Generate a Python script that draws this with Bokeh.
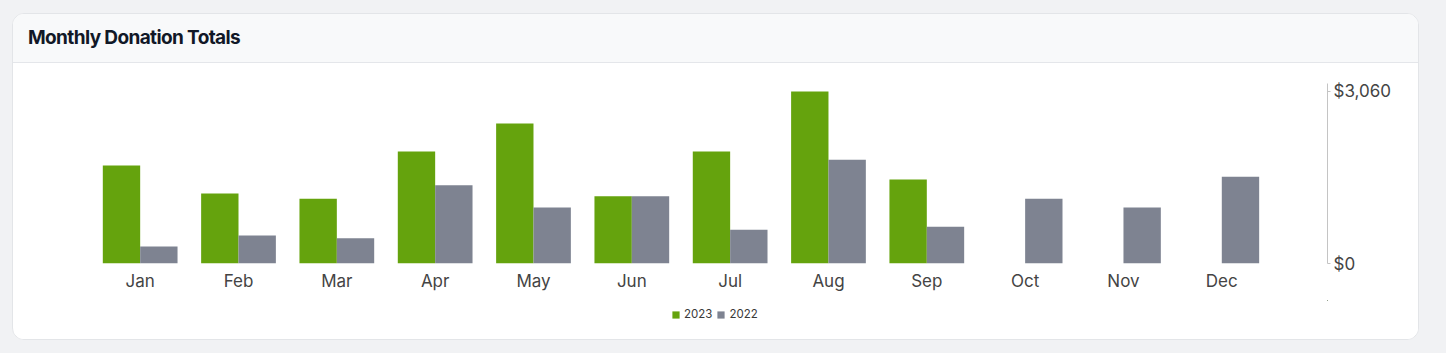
import math
from bokeh.plotting import figure
from bokeh.models import (ColumnDataSource, Range1d, LinearAxis, FixedTicker,
                          NumeralTickFormatter, Legend, Div)
from bokeh.layouts import column
from bokeh.transform import dodge
from bokeh.embed import file_html
from bokeh.resources import INLINE

months = ["Jan", "Feb", "Mar", "Apr", "May", "Jun",
          "Jul", "Aug", "Sep", "Oct", "Nov", "Dec"]
donations_2023 = [1743, 1245, 1151, 1993, 2491, 1197, 1993, 3060, 1494,
                  float("nan"), float("nan"), float("nan")]
donations_2022 = [302, 498, 450, 1393, 996, 1197, 599, 1845, 653, 1151, 996, 1542]
y_ticks = [0, 3060]
series_names = ["2023", "2022"]

GREEN = "#65a30d"
GREY = "#7e8391"
TEXT = "#444444"
FONT = "Inter"

src = ColumnDataSource(dict(
    x=list(range(len(months))),
    month=months,
    y2023=donations_2023,
    y2022=donations_2022,
))

p = figure(width=1405, height=237, output_backend="svg", toolbar_location=None,
           x_range=Range1d(-0.495, 12.075), y_range=Range1d(0, 3202.3),
           x_axis_location=None, y_axis_location=None,
           min_border_left=78, min_border_right=91,
           min_border_top=20, min_border_bottom=37, margin=0)
p.outline_line_color = None
p.background_fill_color = "white"
p.border_fill_color = "white"
p.xgrid.visible = False
p.ygrid.visible = False

p.vbar(x=dodge("x", -0.19, range=p.x_range), top="y2023", width=0.38,
       source=src, fill_color=GREEN, line_color=None)
p.vbar(x=dodge("x", 0.19, range=p.x_range), top="y2022", width=0.38,
       source=src, fill_color=GREY, line_color=None)

xaxis = LinearAxis(ticker=FixedTicker(ticks=list(range(len(months)))),
                   major_label_overrides={i: m for i, m in enumerate(months)})
xaxis.axis_line_color = None
xaxis.major_tick_line_color = None
xaxis.minor_tick_line_color = None
xaxis.major_tick_out = 0
xaxis.major_tick_in = 0
xaxis.major_label_standoff = 7
xaxis.major_label_text_font = FONT
xaxis.major_label_text_font_size = "17px"
xaxis.major_label_text_color = TEXT
p.add_layout(xaxis, "below")

yaxis = LinearAxis(ticker=FixedTicker(ticks=y_ticks),
                   formatter=NumeralTickFormatter(format="$0,0"))
yaxis.axis_line_color = "#c4c4c4"
yaxis.major_tick_line_color = "#c4c4c4"
yaxis.minor_tick_line_color = None
yaxis.major_tick_in = 0
yaxis.major_tick_out = 3
yaxis.major_label_standoff = 3
yaxis.major_label_text_font = FONT
yaxis.major_label_text_font_size = "17px"
yaxis.major_label_text_color = TEXT
yaxis.major_label_text_align = "left"
p.add_layout(yaxis, "right")

# legend strip below the chart (its own renderers fall outside its view)
lg = figure(width=1405, height=39, output_backend="svg", toolbar_location=None,
            x_range=Range1d(-100, -99), y_range=Range1d(-100, -99),
            x_axis_location=None, y_axis_location=None,
            min_border=0, margin=0)
lg.outline_line_color = None
lg.background_fill_color = "white"
lg.border_fill_color = "white"
lg.xgrid.visible = False
lg.ygrid.visible = False
l1 = lg.vbar(x="x", top="y2023", width=0.38, source=src, fill_color=GREEN, line_color=None)
l2 = lg.vbar(x="x", top="y2022", width=0.38, source=src, fill_color=GREY, line_color=None)

legend = Legend(items=[(series_names[0], [l1]), (series_names[1], [l2])],
                orientation="horizontal", location=(580, 18),
                glyph_width=9, glyph_height=9, label_height=12,
                label_standoff=4, spacing=4, padding=0, margin=0,
                label_text_font=FONT, label_text_font_size="11.5px",
                label_text_color="#3a3a3a",
                background_fill_alpha=0, border_line_color=None)
lg.add_layout(legend, "center")

header = Div(text="Monthly Donation Totals", width=1405, height=49, margin=0,
             styles={"background-color": "#f8f9fa",
                     "border-bottom": "1px solid #e4e6ea",
                     "box-sizing": "border-box",
                     "padding-left": "15px",
                     "font-family": "Inter",
                     "font-size": "19px",
                     "letter-spacing": "-0.62px",
                     "font-weight": "700",
                     "color": "#111827",
                     "line-height": "48px"})

card = column(header, p, lg, margin=(13, 0, 0, 12), spacing=0,
              styles={"background-color": "white",
                      "border": "1px solid #e3e5e8",
                      "border-radius": "12px",
                      "overflow": "hidden"})

html = file_html(card, INLINE)
html = html.replace("</head>",
                    "<style>html,body{margin:0;padding:0;background:#f1f2f4;}</style></head>", 1)
open("out.html", "w").write(html)
